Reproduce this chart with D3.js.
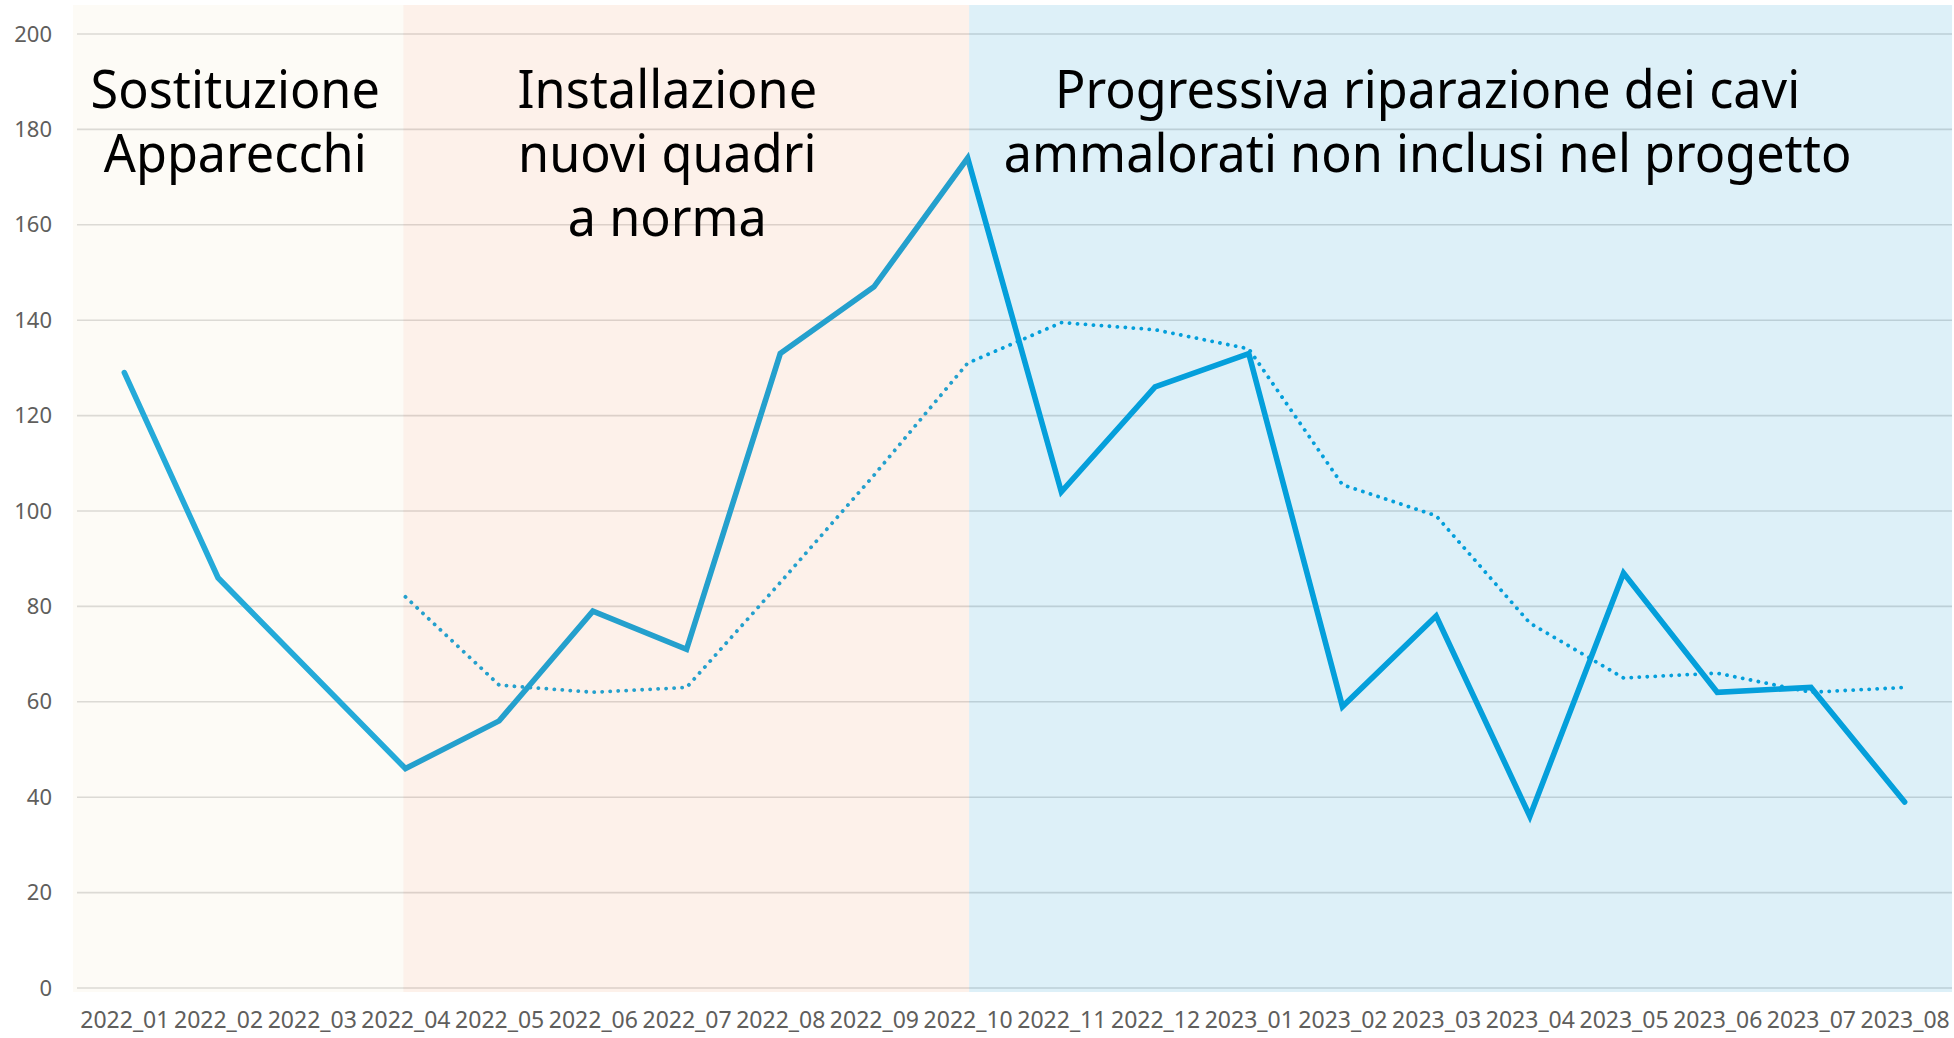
<!DOCTYPE html>
<html>
<head>
<meta charset="utf-8">
<script src="https://cdn.jsdelivr.net/npm/d3@7"></script>
<style>
  body { margin: 0; background: #fff; }
  svg text { font-family: "Noto Sans", sans-serif; }
</style>
</head>
<body>
<svg id="chart" width="1954" height="1038"></svg>
<script>
// months on the x axis
var months = ['2022_01', '2022_02', '2022_03', '2022_04', '2022_05', '2022_06', '2022_07',
    '2022_08', '2022_09', '2022_10', '2022_11', '2022_12', '2023_01', '2023_02', '2023_03',
    '2023_04', '2023_05', '2023_06', '2023_07', '2023_08'];

// monthly values (solid line)
var valori = [129, 86, 66, 46, 56, 79, 71, 133, 147, 174, 104, 126, 133, 59, 78, 36, 87, 62, 63, 39];

// trend line (dotted), starts at 2022_04
var tendenza = [null, null, null, 82, 63.5, 62, 63, 85, 107.5, 131, 139.5, 138, 134, 105.5, 99, 76.5, 65, 66, 62, 63];

var yTicks = [0, 20, 40, 60, 80, 100, 120, 140, 160, 180, 200];

// project phases: label lines, first and last month of the band
var fasiTesto = [
    ['Sostituzione', 'Apparecchi'],
    ['Installazione', 'nuovi quadri', 'a norma'],
    ['Progressiva riparazione dei cavi', 'ammalorati non inclusi nel progetto']
];
var fasiInizio = [null, '2022_04', '2022_10'];
var fasiFine = ['2022_04', '2022_10', null];

var svg = d3.select('#chart');

var x = d3.scalePoint()
    .domain(months)
    .range([77.5, 1951.5])
    .padding(0.5);

var y = d3.scaleLinear()
    .domain([0, 200])
    .range([988, 34]);

// gridlines
svg.append('g')
    .selectAll('line')
    .data(yTicks)
    .enter()
    .append('line')
    .attr('x1', 77)
    .attr('x2', 1952)
    .attr('y1', function(d){ return y(d); })
    .attr('y2', function(d){ return y(d); })
    .style('stroke', '#d9d9d9')
    .style('stroke-width', 1.6);

// y axis labels
var yAxis = svg.append('g')
    .attr('transform', 'translate(52,0)')
    .call(d3.axisLeft(y).tickValues(yTicks).tickSize(0).tickPadding(0));
yAxis.select('.domain').remove();
yAxis.selectAll('text')
    .attr('font-size', 22)
    .style('font-family', '"Noto Sans", sans-serif')
    .attr('fill', '#605e5c');

// x axis labels
var xAxis = svg.append('g')
    .attr('transform', 'translate(0,' + y(0) + ')')
    .call(d3.axisBottom(x).tickSize(0).tickPadding(24));
xAxis.select('.domain').remove();
xAxis.selectAll('text')
    .attr('font-size', 23)
    .style('font-family', '"Noto Sans", sans-serif')
    .attr('fill', '#605e5c');

var lineColor = '#00a0dd';

var line = d3.line()
    .defined(function(d){ return d != null; })
    .x(function(d, i){ return x(months[i]); })
    .y(function(d){ return y(d); });

svg.append('path')
    .datum(tendenza)
    .attr('d', line)
    .style('fill', 'none')
    .style('stroke', lineColor)
    .style('stroke-width', 3.8)
    .style('stroke-linecap', 'round')
    .style('stroke-dasharray', '0.1 7.9');

svg.append('path')
    .datum(valori)
    .attr('d', line)
    .style('fill', 'none')
    .style('stroke', lineColor)
    .style('stroke-width', 5.6)
    .style('stroke-linejoin', 'miter')
    .style('stroke-linecap', 'round');

// translucent phase bands laid over the plot
var bandColors = ['#f2e4c3', '#f2a273', '#1c9bd0'];
var bandShift = [0, -2, 1.5];
var bandLeft = function(i){ return fasiInizio[i] ? x(fasiInizio[i]) + bandShift[i] : 73; };
var bandRight = function(i){ return fasiFine[i] ? bandLeft(i + 1) : 1952; };

svg.append('g')
    .selectAll('rect')
    .data(fasiTesto)
    .enter()
    .append('rect')
    .attr('x', function(d, i){ return bandLeft(i); })
    .attr('y', 5)
    .attr('width', function(d, i){ return bandRight(i) - bandLeft(i); })
    .attr('height', 987)
    .style('fill', function(d, i){ return bandColors[i]; })
    .style('fill-opacity', 0.15);

// phase captions
var labelShift = [-3, -19, -33];
var captions = svg.append('g')
    .selectAll('g')
    .data(fasiTesto)
    .enter()
    .append('g')
    .attr('transform', function(d, i){
        var cx = (bandLeft(i) + bandRight(i)) / 2 + labelShift[i];
        return 'translate(' + cx + ',0) scale(0.95,1)';
    });

captions.selectAll('text')
    .data(function(d){ return d; })
    .enter()
    .append('text')
    .attr('x', 0)
    .attr('y', function(d, j){ return 108 + j * 64; })
    .attr('text-anchor', 'middle')
    .attr('font-size', 53)
    .attr('fill', '#000')
    .text(function(d){ return d; });
</script>
</body>
</html>
